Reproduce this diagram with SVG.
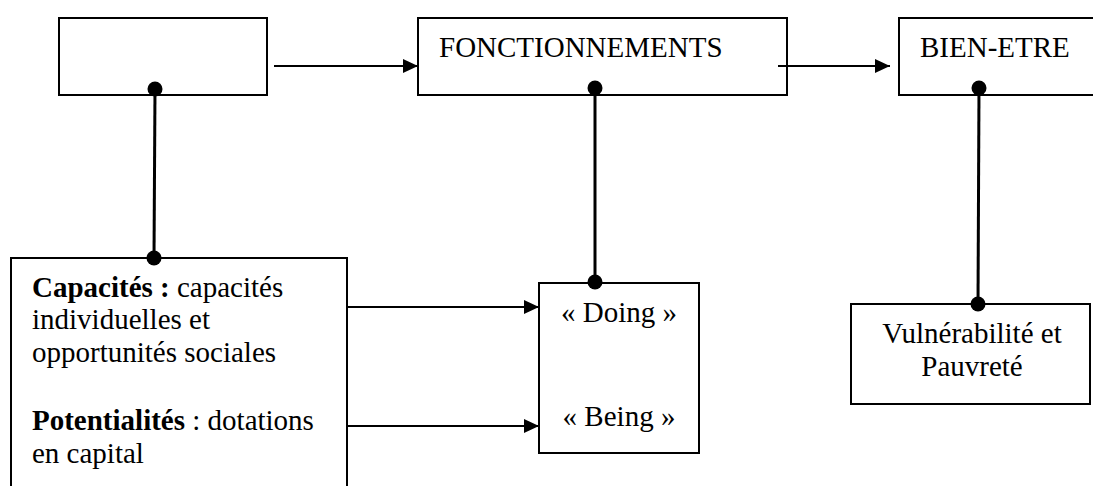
<svg xmlns="http://www.w3.org/2000/svg" width="1093" height="486" viewBox="0 0 1093 486">
  <style>
    .box { fill: #fff; stroke: #000; stroke-width: 2; }
    .link { stroke: #000; stroke-width: 3; fill: none; }
    .flow { stroke: #000; stroke-width: 2; fill: none; }
    .dot { fill: #000; }
    .t { font-family: 'Liberation Serif', 'DejaVu Serif', serif; font-size: 29px; fill: #000; }
    .b { font-weight: bold; }
  </style>
  <defs>
    <marker id="arrow" markerWidth="15" markerHeight="14" refX="15" refY="7" orient="auto" markerUnits="userSpaceOnUse">
      <path d="M0,0 L15,7 L0,14 Z" fill="#000"/>
    </marker>
  </defs>

  <rect width="1093" height="486" fill="#fff"/>

  <!-- boxes -->
  <g id="n-empty">
    <rect class="box" x="59" y="18" width="208" height="77"/>
  </g>
  <g id="n-fonctionnements">
    <rect class="box" x="418" y="18" width="369" height="77"/>
    <text class="t" font-family="Liberation Serif" x="439" y="57">FONCTIONNEMENTS</text>
  </g>
  <g id="n-bienetre">
    <rect class="box" x="899" y="18" width="210" height="77"/>
    <text class="t" font-family="Liberation Serif" x="920" y="57">BIEN-ETRE</text>
  </g>
  <g id="n-capacites" class="t" font-family="Liberation Serif">
    <rect class="box" x="11" y="258" width="336" height="250"/>
    <text x="32" y="297"><tspan class="b">Capacités :</tspan> capacités</text>
    <text x="32" y="329">individuelles et</text>
    <text x="32" y="362">opportunités sociales</text>
    <text x="32" y="430"><tspan class="b">Potentialités</tspan> : dotations</text>
    <text x="32" y="463">en capital</text>
  </g>
  <g id="n-doing-being" class="t" font-family="Liberation Serif">
    <rect class="box" x="539" y="283" width="160" height="170"/>
    <text x="619" y="322" text-anchor="middle">« Doing »</text>
    <text x="619" y="426" text-anchor="middle">« Being »</text>
  </g>
  <g id="n-vulnerabilite" class="t" font-family="Liberation Serif">
    <rect class="box" x="851" y="304" width="239" height="100"/>
    <text x="972" y="343" text-anchor="middle">Vulnérabilité et</text>
    <text x="972" y="376" text-anchor="middle">Pauvreté</text>
  </g>

  <!-- connectors -->
  <g id="connectors">
    <line class="flow" x1="274" y1="66" x2="418" y2="66" marker-end="url(#arrow)"/>
    <line class="flow" x1="778" y1="66" x2="890" y2="66" marker-end="url(#arrow)"/>
    <line class="flow" x1="347" y1="307" x2="539" y2="307" marker-end="url(#arrow)"/>
    <line class="flow" x1="347" y1="426" x2="539" y2="426" marker-end="url(#arrow)"/>

    <line class="link" x1="155" y1="89" x2="154" y2="258"/>
    <circle class="dot" cx="155" cy="89" r="7.5"/>
    <circle class="dot" cx="154" cy="258" r="7.5"/>

    <line class="link" x1="595" y1="88" x2="595" y2="282"/>
    <circle class="dot" cx="595" cy="88" r="7.5"/>
    <circle class="dot" cx="595" cy="282" r="7.5"/>

    <line class="link" x1="979" y1="88" x2="978" y2="304"/>
    <circle class="dot" cx="979" cy="88" r="7.5"/>
    <circle class="dot" cx="978" cy="304" r="7.5"/>
  </g>
</svg>
